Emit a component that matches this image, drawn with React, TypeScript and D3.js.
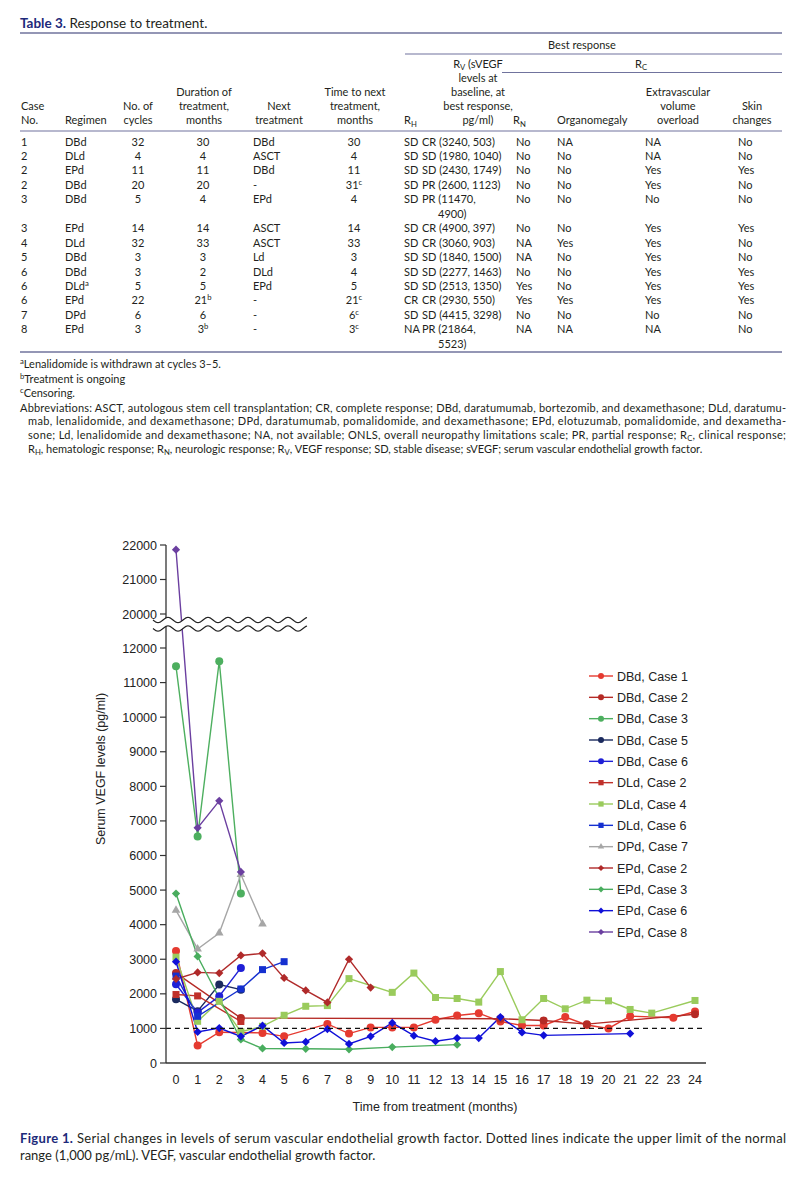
import * as d3 from 'd3';

// ---------- table data ----------
const caseNo = ['1', '2', '2', '2', '3', '3', '4', '5', '6', '6', '6', '7', '8'];
const regimen = ['DBd', 'DLd', 'EPd', 'DBd', 'DBd', 'EPd', 'DLd', 'DBd', 'DBd', 'DLd^a', 'EPd', 'DPd', 'EPd'];
const cycles = ['32', '4', '11', '20', '5', '14', '32', '3', '3', '5', '22', '6', '3'];
const duration = ['30', '4', '11', '20', '4', '14', '33', '3', '2', '5', '21^b', '6', '3^b'];
const nextTx = ['DBd', 'ASCT', 'DBd', '-', 'EPd', 'ASCT', 'ASCT', 'Ld', 'DLd', 'EPd', '-', '-', '-'];
const timeNext = ['30', '4', '11', '31^c', '4', '14', '33', '3', '4', '5', '21^c', '6^c', '3^c'];
const rH = ['SD', 'SD', 'SD', 'SD', 'SD', 'SD', 'SD', 'SD', 'SD', 'SD', 'CR', 'SD', 'NA'];
const rV = ['CR (3240, 503)', 'SD (1980, 1040)', 'SD (2430, 1749)', 'PR (2600, 1123)', 'PR (11470,|4900)', 'CR (4900, 397)', 'CR (3060, 903)', 'SD (1840, 1500)', 'SD (2277, 1463)', 'SD (2513, 1350)', 'CR (2930, 550)', 'SD (4415, 3298)', 'PR (21864,|5523)'];
const rN = ['No', 'No', 'No', 'No', 'No', 'No', 'NA', 'NA', 'No', 'Yes', 'Yes', 'No', 'NA'];
const organ = ['NA', 'No', 'No', 'No', 'No', 'No', 'Yes', 'No', 'No', 'No', 'Yes', 'No', 'NA'];
const extra = ['NA', 'NA', 'Yes', 'Yes', 'No', 'Yes', 'Yes', 'Yes', 'Yes', 'Yes', 'Yes', 'No', 'NA'];
const skin = ['No', 'No', 'Yes', 'No', 'No', 'Yes', 'No', 'No', 'Yes', 'Yes', 'Yes', 'No', 'No'];

const footnotes = ['^aLenalidomide is withdrawn at cycles 3–5.', '^bTreatment is ongoing', '^cCensoring.'];
const abbrevLines = [
  'Abbreviations: ASCT, autologous stem cell transplantation; CR, complete response; DBd, daratumumab, bortezomib, and dexamethasone; DLd, daratumu-',
  'mab, lenalidomide, and dexamethasone; DPd, daratumumab, pomalidomide, and dexamethasone; EPd, elotuzumab, pomalidomide, and dexametha-',
  'sone; Ld, lenalidomide and dexamethasone; NA, not available; ONLS, overall neuropathy limitations scale; PR, partial response; R_C, clinical response;',
  'R_H, hematologic response; R_N, neurologic response; R_V, VEGF response; SD, stable disease; sVEGF; serum vascular endothelial growth factor.',
];

// ---------- chart data ----------
const xTicks = [0, 1, 2, 3, 4, 5, 6, 7, 8, 9, 10, 11, 12, 13, 14, 15, 16, 17, 18, 19, 20, 21, 22, 23, 24];
const yTicksLow = [0, 1000, 2000, 3000, 4000, 5000, 6000, 7000, 8000, 9000, 10000, 11000, 12000];
const yTicksHigh = [20000, 21000, 22000];
const normalLimit = 1000;

type Pt = [number, number];
const dbdCase1: Pt[] = [[0, 3240], [1, 503], [2, 890], [4, 870], [5, 770], [7, 1130], [8, 850], [9, 1030], [10, 1030], [11, 1030], [12, 1250], [13, 1375], [14, 1440], [15, 1200], [16, 1085], [17, 1085], [18, 1330], [19, 1100], [20, 1000], [21, 1355], [23, 1310], [24, 1490]];
const dbdCase2: Pt[] = [[0, 2600], [3, 1300], [15, 1280], [17, 1230], [19, 1123], [24, 1410]];
const dbdCase3: Pt[] = [[0, 11470], [1, 6550], [2, 11620], [3, 4900]];
const dbdCase5: Pt[] = [[0, 1840], [1, 1500], [2, 2270], [3, 2120]];
const dbdCase6: Pt[] = [[0, 2277], [1, 1463], [2, 1930], [3, 2750]];
const dldCase2: Pt[] = [[0, 1980], [1, 1940], [3, 1200]];
const dldCase4: Pt[] = [[0, 3060], [1, 1205], [2, 1783], [3, 903], [4, 1060], [5, 1380], [6, 1640], [7, 1660], [8, 2440], [10, 2043], [11, 2600], [12, 1894], [13, 1865], [14, 1760], [15, 2644], [16, 1250], [17, 1865], [18, 1567], [19, 1817], [20, 1798], [21, 1548], [22, 1442], [24, 1808]];
const dldCase6: Pt[] = [[0, 2513], [1, 1350], [3, 2140], [4, 2700], [5, 2930]];
const dpdCase7: Pt[] = [[0, 4415], [1, 3298], [2, 3760], [3, 5450], [4, 4020]];
const epdCase2: Pt[] = [[0, 2430], [1, 2620], [2, 2600], [3, 3110], [4, 3170], [5, 2460], [6, 2100], [7, 1750], [8, 3000], [9, 2180]];
const epdCase3: Pt[] = [[0, 4900], [1, 3080], [3, 680], [4, 420], [6, 410], [8, 397], [10, 460], [13, 530]];
const epdCase6: Pt[] = [[0, 2930], [1, 900], [2, 1010], [3, 770], [4, 1080], [5, 580], [6, 610], [7, 980], [8, 550], [9, 770], [10, 1160], [11, 790], [12, 630], [13, 720], [14, 720], [15, 1330], [16, 885], [17, 800], [21, 850]];
const epdCase8: Pt[] = [[0, 21864], [1, 6800], [2, 7580], [3, 5523]];

type Shape = 'circle' | 'square' | 'diamond' | 'triangle';
const series: { name: string; color: string; shape: Shape; data: Pt[] }[] = [
  { name: 'DBd, Case 1', color: '#e53a30', shape: 'circle', data: dbdCase1 },
  { name: 'DBd, Case 2', color: '#b52a25', shape: 'circle', data: dbdCase2 },
  { name: 'DBd, Case 3', color: '#4daf5f', shape: 'circle', data: dbdCase3 },
  { name: 'DBd, Case 5', color: '#1b2a5e', shape: 'circle', data: dbdCase5 },
  { name: 'DBd, Case 6', color: '#1f1fd6', shape: 'circle', data: dbdCase6 },
  { name: 'DLd, Case 2', color: '#c0302a', shape: 'square', data: dldCase2 },
  { name: 'DLd, Case 4', color: '#9acb5c', shape: 'square', data: dldCase4 },
  { name: 'DLd, Case 6', color: '#1530d0', shape: 'square', data: dldCase6 },
  { name: 'DPd, Case 7', color: '#a6a6a6', shape: 'triangle', data: dpdCase7 },
  { name: 'EPd, Case 2', color: '#b02a2a', shape: 'diamond', data: epdCase2 },
  { name: 'EPd, Case 3', color: '#49ad5e', shape: 'diamond', data: epdCase3 },
  { name: 'EPd, Case 6', color: '#1010d8', shape: 'diamond', data: epdCase6 },
  { name: 'EPd, Case 8', color: '#6b3fa0', shape: 'diamond', data: epdCase8 },
];

const tableFont = "Lato, 'Open Sans', sans-serif";
const chartFont = "'Liberation Sans', Arial, sans-serif";
const ink = '#231f20';
const navy = '#1d2a7a';
const rule = '#70739d';

function parts(s: string) {
  const out: { t: string; k: 'n' | 'sup' | 'sub' }[] = [];
  let buf = '';
  for (let i = 0; i < s.length; i++) {
    const c = s[i];
    if ((c === '^' || c === '_') && i + 1 < s.length) {
      if (buf) out.push({ t: buf, k: 'n' });
      buf = '';
      out.push({ t: s[i + 1], k: c === '^' ? 'sup' : 'sub' });
      i++;
    } else buf += c;
  }
  if (buf) out.push({ t: buf, k: 'n' });
  return out;
}

function Rich({ s, x, y, anchor = 'start', size = 11, len }: { s: string; x: number; y: number; anchor?: string; size?: number; len?: number }) {
  let shift = 0;
  return (
    <text x={x} y={y} textAnchor={anchor} fontSize={size} fill={ink}
      textLength={len} lengthAdjust={len ? 'spacing' : undefined}>
      {parts(s).map((p, j) => {
        const target = p.k === 'sup' ? -4 : p.k === 'sub' ? 2.5 : 0;
        const dy = target - shift;
        shift = target;
        return (
          <tspan key={j} dy={dy || undefined} fontSize={p.k === 'n' ? undefined : size * 0.7}>{p.t}</tspan>
        );
      })}
    </text>
  );
}

function Marker({ shape, color, cx, cy, s = 1 }: { shape: Shape; color: string; cx: number; cy: number; s?: number }) {
  if (shape === 'circle') return <circle cx={cx} cy={cy} r={4 * s} fill={color} />;
  if (shape === 'square') return <rect x={cx - 3.5 * s} y={cy - 3.5 * s} width={7 * s} height={7 * s} fill={color} />;
  if (shape === 'diamond') {
    const d = d3.symbol(d3.symbolSquare, 34 * s * s)()!;
    return <path d={d} transform={`translate(${cx},${cy}) rotate(45)`} fill={color} />;
  }
  const d = d3.symbol(d3.symbolTriangle, 32 * s * s)()!;
  return <path d={d} transform={`translate(${cx},${cy})`} fill={color} />;
}

function Table() {
  const rowY = (i: number) => 145.5 + i * 14.45 + (i > 4 ? 14.45 : 0);
  const cols: { data: string[]; x: number; anchor: string }[] = [
    { data: caseNo, x: 21, anchor: 'start' },
    { data: regimen, x: 65, anchor: 'start' },
    { data: cycles, x: 138, anchor: 'middle' },
    { data: duration, x: 203, anchor: 'middle' },
    { data: nextTx, x: 253, anchor: 'start' },
    { data: timeNext, x: 354, anchor: 'middle' },
    { data: rH, x: 404, anchor: 'start' },
    { data: rN, x: 516, anchor: 'start' },
    { data: organ, x: 557, anchor: 'start' },
    { data: extra, x: 645, anchor: 'start' },
    { data: skin, x: 738, anchor: 'start' },
  ];
  const hb = [67.5, 81.5, 95.5, 109.5, 124];
  const headers: { lines: string[]; x: number; anchor: string }[] = [
    { lines: ['Case', 'No.'], x: 21, anchor: 'start' },
    { lines: ['Regimen'], x: 65, anchor: 'start' },
    { lines: ['No. of', 'cycles'], x: 138, anchor: 'middle' },
    { lines: ['Duration of', 'treatment,', 'months'], x: 204, anchor: 'middle' },
    { lines: ['Next', 'treatment'], x: 279, anchor: 'middle' },
    { lines: ['Time to next', 'treatment,', 'months'], x: 355, anchor: 'middle' },
    { lines: ['R_H'], x: 404, anchor: 'start' },
    { lines: ['R_V (sVEGF', 'levels at', 'baseline, at', 'best response,', 'pg/ml)'], x: 478, anchor: 'middle' },
    { lines: ['R_N'], x: 513, anchor: 'start' },
    { lines: ['Organomegaly'], x: 557, anchor: 'start' },
    { lines: ['Extravascular', 'volume', 'overload'], x: 678, anchor: 'middle' },
    { lines: ['Skin', 'changes'], x: 752, anchor: 'middle' },
  ];
  return (
    <g fontFamily={tableFont}>
      <text x={20} y={28} fontSize={13.5} fill={ink}>
        <tspan fill={navy} fontWeight="bold">Table 3.</tspan> Response to treatment.
      </text>
      <line x1={20} x2={782} y1={33} y2={33} stroke={rule} strokeWidth={1.4} />
      <text x={582} y={49} fontSize={11} fill={ink} textAnchor="middle">Best response</text>
      <line x1={405} x2={782} y1={54} y2={54} stroke={rule} strokeWidth={1.2} />
      <Rich s="R_C" x={641} y={67.5} anchor="middle" />
      <line x1={502} x2={782} y1={72.5} y2={72.5} stroke={rule} strokeWidth={1.2} />
      {headers.map((h, i) => h.lines.map((l, j) => (
        <Rich key={`${i}-${j}`} s={l} x={h.x} y={hb[hb.length - h.lines.length + j]} anchor={h.anchor} />
      )))}
      <line x1={20} x2={782} y1={131} y2={131} stroke={rule} strokeWidth={1.2} />
      {cols.map((c, ci) => c.data.map((v, i) => (
        <Rich key={`${ci}-${i}`} s={v} x={c.x} y={rowY(i)} anchor={c.anchor} />
      )))}
      {rV.map((v, i) => v.split('|').map((l, j) => (
        <Rich key={`rv${i}-${j}`} s={l} x={j ? 438 : 422} y={rowY(i) + j * 14.45} />
      )))}
      <line x1={20} x2={782} y1={352} y2={352} stroke={rule} strokeWidth={1.4} />
      {footnotes.map((f, i) => <Rich key={f} s={f} x={20} y={368 + i * 14.5} />)}
      {abbrevLines.map((l, i) => (
        <Rich key={i} s={l} x={i ? 28 : 20} y={411.5 + i * 13.7}
          len={i === 3 ? undefined : i ? 758 : 766} />
      ))}
    </g>
  );
}

function Chart() {
  const x = d3.scaleLinear().domain([0, 24]).range([176, 695]);
  const yLow = d3.scaleLinear().domain([0, 12000]).range([1063, 648]);
  const yHigh = d3.scaleLinear().domain([20000, 22000]).range([614, 545]);
  const yv = (v: number) => (v >= 20000 ? yHigh(v) : yLow(v));
  const line = d3.line<Pt>().x(d => x(d[0])).y(d => yv(d[1]));
  const axisX0 = 166;
  const axisX1 = 706;

  // axis break waves
  const wx = d3.range(153, 308, 1);
  const wave = (cy: number) => wx.map(px => [px, cy + 2.6 * Math.sin(((px - 153) / 20) * 2 * Math.PI)] as [number, number]);
  const up = wave(620);
  const lo = wave(628.5);
  const wl = d3.line();
  const band = 'M' + up.map(p => p.join(',')).join('L') + 'L' + lo.slice().reverse().map(p => p.join(',')).join('L') + 'Z';

  const legendY = d3.scalePoint<string>().domain(series.map(s => s.name)).range([676, 932]);

  return (
    <g fontFamily={chartFont} fill="#222">
      {series.map(s => (
        <path key={s.name} d={line(s.data)!} fill="none" stroke={s.color} strokeWidth={1.4} />
      ))}
      {series.map(s => s.data.map((d, i) => (
        <Marker key={s.name + i} shape={s.shape} color={s.color} cx={x(d[0])} cy={yv(d[1])} />
      )))}
      <line x1={axisX0} x2={axisX1} y1={yLow(normalLimit)} y2={yLow(normalLimit)} stroke="#111" strokeWidth={1.4} strokeDasharray="5,4" />
      {/* axes */}
      <line x1={axisX0} x2={axisX0} y1={yHigh(22000)} y2={yLow(0)} stroke="#333" strokeWidth={1.3} />
      <line x1={axisX0} x2={axisX1} y1={yLow(0)} y2={yLow(0)} stroke="#333" strokeWidth={1.3} />
      <path d={band} fill="#fff" stroke="none" />
      <path d={wl(up)!} fill="none" stroke="#222" strokeWidth={1.2} />
      <path d={wl(lo)!} fill="none" stroke="#222" strokeWidth={1.2} />
      {[...yTicksLow.map(t => [t, yLow(t)]), ...yTicksHigh.map(t => [t, yHigh(t)])].map(([t, py]) => (
        <g key={t}>
          <line x1={axisX0 - 6} x2={axisX0} y1={py} y2={py} stroke="#333" strokeWidth={1.2} />
          <text x={axisX0 - 9} y={py + 4.5} fontSize={12.5} textAnchor="end">{t}</text>
        </g>
      ))}
      {xTicks.map(t => (
        <text key={t} x={x(t)} y={1083.5} fontSize={12.5} textAnchor="middle">{t}</text>
      ))}
      <text x={435} y={1111} fontSize={12.5} textAnchor="middle">Time from treatment (months)</text>
      <text transform="translate(105,769) rotate(-90)" fontSize={12.5} textAnchor="middle">Serum VEGF levels (pg/ml)</text>
      {/* legend */}
      {series.map(s => {
        const ly = legendY(s.name)!;
        return (
          <g key={s.name}>
            <line x1={589} x2={613} y1={ly} y2={ly} stroke={s.color} strokeWidth={1.4} />
            <Marker shape={s.shape} color={s.color} cx={601} cy={ly} s={0.75} />
            <text x={617} y={ly + 4.5} fontSize={12.5}>{s.name}</text>
          </g>
        );
      })}
    </g>
  );
}

export default function App() {
  return (
    <svg width={808} height={1200} style={{ position: 'absolute', left: 0, top: 0, background: '#fff' }}>
      <rect width={808} height={1200} fill="#fff" />
      <Table />
      <Chart />
      <g fontFamily={tableFont} fontSize={13}>
        <text x={20} y={1143} fill={ink} textLength={766} lengthAdjust="spacing">
          <tspan fill={navy} fontWeight="bold">Figure 1.</tspan> Serial changes in levels of serum vascular endothelial growth factor. Dotted lines indicate the upper limit of the normal
        </text>
        <text x={20} y={1160} fill={ink}>range (1,000 pg/mL). VEGF, vascular endothelial growth factor.</text>
      </g>
    </svg>
  );
}
